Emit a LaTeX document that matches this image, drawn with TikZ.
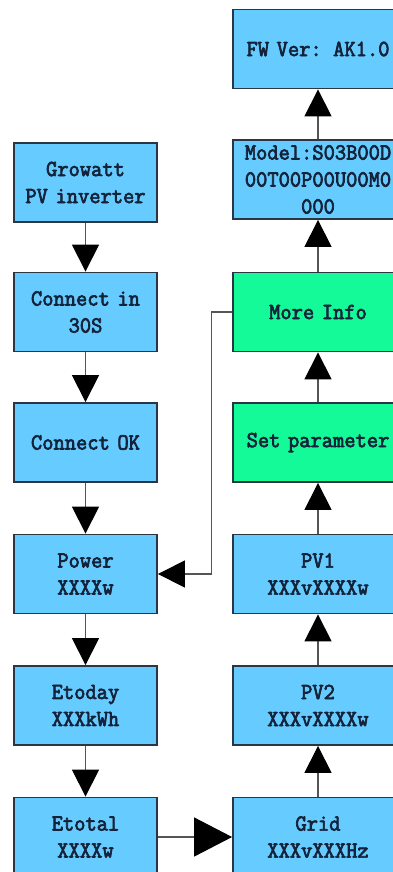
\documentclass[tikz,border=0pt]{standalone}
\usepackage{fontspec}
\newfontfamily\boxfont[FakeBold=3, FakeStretch=0.95]{Latin Modern Mono}
\usetikzlibrary{arrows.meta}
\definecolor{boxblue}{HTML}{66CCFF}
\definecolor{boxgreen}{HTML}{14FA98}
\definecolor{boxline}{HTML}{2B3644}
\definecolor{txt}{HTML}{14223A}
\definecolor{conn}{HTML}{555555}
\tikzset{
  x=1pt, y=-1pt,
  scr/.style={draw=boxline, line width=1.8pt, fill=boxblue, minimum height=79pt,
    inner sep=0pt, align=center, text=txt,
    font=\boxfont\fontsize{23}{27}\selectfont},
  lscr/.style={scr, minimum width=143pt, text width=140pt},
  rscr/.style={scr, minimum width=170pt, text width=168pt},
  grn/.style={fill=boxgreen},
  arr/.style={draw=conn, line width=1.2pt, -{Triangle[length=27pt,width=27pt,fill=black,color=black]}},
  bigarr/.style={draw=conn, line width=1.2pt, -{Triangle[length=38pt,width=39pt,fill=black,color=black]}}
}
\begin{document}
\begin{tikzpicture}
\useasboundingbox (0,0) rectangle (393,872);
\fill[white] (0,0) rectangle (393,872);
\clip (0,0) rectangle (393,872);
% left column
\node[lscr] (grow) at (85.5,182.5) {Growatt\\PV inverter};
\node[lscr] (conn30) at (85.5,312) {Connect in\\30S};
\node[lscr] (connok) at (85.5,442.5) {Connect OK};
\node[lscr] (power) at (85.5,574) {Power\\XXXXw};
\node[lscr] (etoday) at (85.5,705.5) {Etoday\\XXXkWh};
\node[lscr] (etotal) at (85.5,837) {Etotal\\XXXXw};
% right column
\node[rscr] (fw) at (318,49) {FW Ver: AK1.0};
\node[rscr] (model) at (318,179.5) {Model:S03B00D\\00T00P00U00M0\\000};
\node[rscr,grn] (more) at (318,312) {More Info};
\node[rscr,grn] (setp) at (318,442.5) {Set parameter};
\node[rscr] (pv1) at (318,574) {PV1\\XXXvXXXXw};
\node[rscr] (pv2) at (318,705.5) {PV2\\XXXvXXXXw};
\node[rscr] (grid) at (318,837) {Grid\\XXXvXXXHz};
% connectors
\draw[arr] (grow) -- (conn30);
\draw[arr] (conn30) -- (connok);
\draw[arr] (connok) -- (power);
\draw[arr] (power) -- (etoday);
\draw[arr] (etoday) -- (etotal);
\draw[bigarr] (etotal) -- (grid);
\draw[arr] (grid) -- (pv2);
\draw[arr] (pv2) -- (pv1);
\draw[arr] (pv1) -- (setp);
\draw[arr] (setp) -- (more);
\draw[arr] (more) -- (model);
\draw[arr] (model) -- (fw);
\draw[arr] (more.west) -- ++(-21,0) |- (power.east);
\end{tikzpicture}
\end{document}
